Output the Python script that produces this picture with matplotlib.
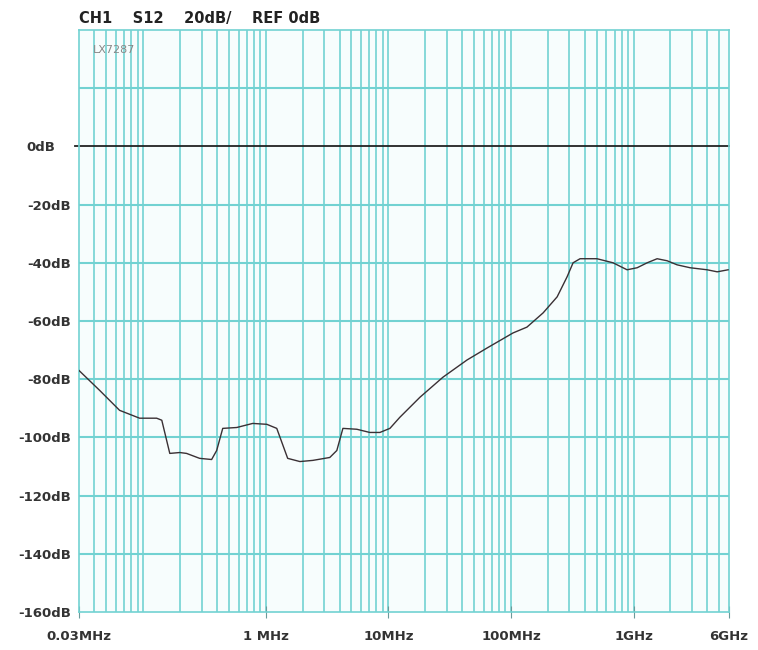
import numpy as np
import matplotlib.pyplot as plt
from matplotlib.ticker import FixedLocator, NullFormatter

# S12 trace, frequency in MHz and level in dB
freq = [0.03, 0.0441, 0.0643, 0.0936, 0.129, 0.142, 0.165, 0.199, 0.226, 0.289,
        0.362, 0.398, 0.446, 0.580, 0.783, 1.02, 1.23, 1.51, 1.90, 2.42,
        3.33, 3.80, 4.26, 5.53, 7.06, 8.53, 10.3, 12.4, 18.1, 27.9,
        43.8, 63.7, 104, 135, 183, 238, 287, 321, 366, 503,
        680, 885, 1069, 1290, 1556, 1877, 2265, 2891, 3981, 4808, 5900]
s12 = [-77.0, -83.8, -90.7, -93.4, -93.4, -94.1, -105.5, -105.2, -105.5, -107.2,
       -107.6, -104.5, -96.9, -96.6, -95.2, -95.5, -96.9, -107.2, -108.3, -107.9,
       -106.9, -104.5, -96.9, -97.2, -98.3, -98.3, -96.9, -93.1, -86.2, -79.3,
       -73.4, -69.3, -64.1, -62.1, -57.2, -51.7, -44.8, -40.0, -38.6, -38.6,
       -40.0, -42.4, -41.7, -40.0, -38.6, -39.3, -40.7, -41.7, -42.4, -43.1, -42.4]

xticks = [0.03, 1, 10, 100, 1000, 6000]
xlabels = ['0.03MHz', '1 MHz', '10MHz', '100MHz', '1GHz', '6GHz']
yticks = [0, -20, -40, -60, -80, -100, -120, -140, -160]
ylabels = ['0dB', '-20dB', '-40dB', '-60dB', '-80dB', '-100dB', '-120dB', '-140dB', '-160dB']

plt.rcParams['font.family'] = ['DejaVu Sans']

fig = plt.figure(figsize=(7.58, 6.5), dpi=100)
ax = fig.add_axes([79/758, 38/650, 650/758, 582/650])
ax.set_facecolor('#f7fdfd')
ax.set_xscale('log')
ax.set_xlim(0.03, 6000)
ax.set_ylim(-160, 40)

# log grid: every 1..9 multiple
minor = []
for dec in [0.01, 0.1, 1, 10, 100, 1000]:
    for m in range(1, 10):
        v = dec * m
        if 0.03 < v < 6000:
            minor.append(v)
grid_c = '#72d2d2'
for v in minor:
    ax.axvline(v, color=grid_c, lw=1.2, zorder=1)
for v in range(-140, 40, 20):
    if v != 0:
        ax.axhline(v, color=grid_c, lw=1.5, zorder=1)
ax.plot([0.028, 6000], [0, 0], color='#222222', lw=1.3, zorder=2, clip_on=False)

ax.plot(freq, s12, color='#3a3034', lw=1.0, zorder=3)

for sp in ax.spines.values():
    sp.set_color(grid_c)
    sp.set_linewidth(1.2)

ax.xaxis.set_major_locator(FixedLocator(xticks))
ax.xaxis.set_minor_locator(FixedLocator([]))
ax.xaxis.set_minor_formatter(NullFormatter())
ax.set_xticklabels(xlabels, fontsize=9.5, fontweight='bold', color='#333333')
ax.tick_params(axis='x', direction='inout', length=8, color='#6a9a9a', pad=9)
ax.set_yticks(yticks)
ax.set_yticklabels(ylabels, fontsize=9.5, fontweight='bold', color='#333333')
ax.tick_params(axis='y', length=0, pad=6)
ax.yaxis.get_major_ticks()[0].set_pad(17)

fig.text(79/758, 1 - 18/650, 'CH1    S12    20dB/    REF 0dB', fontsize=10.5,
         fontweight='bold', color='#222222', va='center')
ax.text(0.022, 0.975, 'LX7287', transform=ax.transAxes, fontsize=8,
        color='#888888', va='top')

fig.savefig('out.png', dpi=100)
